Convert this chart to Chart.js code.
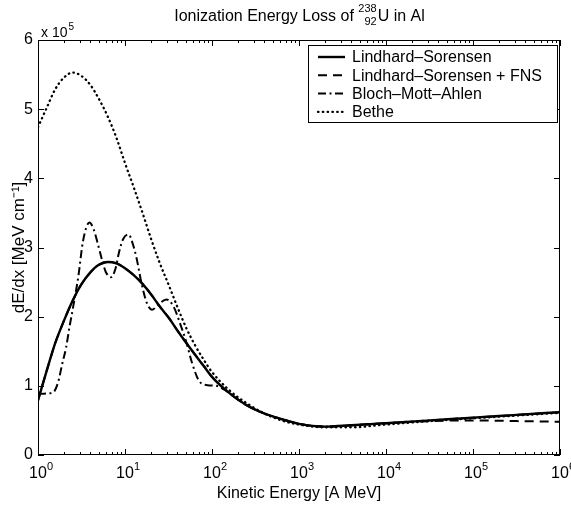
<!DOCTYPE html>
<html>
<head>
<meta charset="utf-8">
<script src="https://cdn.jsdelivr.net/npm/chart.js@4.4.0/dist/chart.umd.min.js"></script>
<style>
  html, body { margin: 0; padding: 0; background: #fff; }
</style>
</head>
<body>
<canvas id="myChart" width="571" height="506"></canvas>
<script>
// kinetic energy [A MeV] for the smooth curves
const energies = [1, 1.26, 1.58, 2, 2.5, 3.16, 4, 5, 6.3, 8, 10, 12.6, 16, 20, 25, 32, 40, 50, 63, 80,
    100, 160, 250, 400, 630, 1000, 2000, 4000, 10000, 32000, 100000, 320000, 1000000];

// dE/dx in units of 10^5 MeV/cm
const lindhardSorensen = [0.79, 1.22, 1.62, 1.95, 2.23, 2.47, 2.64, 2.75, 2.79, 2.77, 2.70, 2.60, 2.47, 2.32, 2.15, 1.98, 1.80, 1.63, 1.46, 1.29,
    1.13, 0.89, 0.72, 0.60, 0.52, 0.45, 0.41, 0.43, 0.46, 0.50, 0.54, 0.58, 0.62];
const lindhardSorensenFns = [0.79, 1.22, 1.62, 1.95, 2.23, 2.47, 2.64, 2.75, 2.79, 2.77, 2.70, 2.60, 2.47, 2.32, 2.15, 1.98, 1.80, 1.63, 1.46, 1.29,
    1.13, 0.89, 0.72, 0.60, 0.52, 0.45, 0.41, 0.43, 0.46, 0.49, 0.50, 0.49, 0.48];
const bethe = [4.74, 5.02, 5.29, 5.46, 5.53, 5.48, 5.35, 5.15, 4.9, 4.58, 4.22, 3.87, 3.49, 3.12, 2.78, 2.45, 2.14, 1.85, 1.60, 1.38,
    1.20, 0.93, 0.75, 0.60, 0.50, 0.44, 0.40, 0.40, 0.44, 0.49, 0.53, 0.57, 0.61];

// Bloch-Mott-Ahlen oscillates, so it is read on its own energy grid
const blochEnergies = [1, 1.26, 1.48, 1.7, 1.9, 2.1, 2.3, 2.5, 2.9, 3.3, 3.9, 4.4, 4.9, 5.5, 6, 6.9, 7.8, 8.5, 9.5, 11,
    12.3, 13.5, 15.5, 17.8, 20.4, 24, 30, 36, 43, 51, 59, 72, 89, 112, 141, 160,
    250, 400, 630, 1000, 2000, 4000, 10000, 32000, 100000, 320000, 1000000];
const blochMottAhlen = [0.88, 0.89, 0.90, 1.05, 1.32, 1.55, 1.85, 2.1, 2.57, 3.1, 3.36, 3.25, 3.04, 2.8, 2.65, 2.57, 2.7, 2.92, 3.12, 3.19,
    3.05, 2.86, 2.48, 2.2, 2.1, 2.17, 2.25, 2.15, 1.9, 1.62, 1.33, 1.06, 1.01, 1.0, 0.94, 0.89,
    0.72, 0.60, 0.52, 0.45, 0.41, 0.43, 0.46, 0.50, 0.54, 0.58, 0.62];

const seriesNames = ['Lindhard\u2013Sorensen', 'Lindhard\u2013Sorensen + FNS', 'Bloch\u2013Mott\u2013Ahlen', 'Bethe'];
const xTickExponents = [0, 1, 2, 3, 4, 5, 6];
const yTicks = [0, 1, 2, 3, 4, 5, 6];

const FONT = '"Liberation Sans", Arial, Helvetica, sans-serif';

const styles = [
    { borderWidth: 2.4, borderDash: [], cap: 'butt' },
    { borderWidth: 2, borderDash: [9, 6], cap: 'butt' },
    { borderWidth: 2, borderDash: [8, 3.5, 2, 3.5], cap: 'butt' },
    { borderWidth: 2.3, borderDash: [0.5, 4.3], cap: 'round' }
];

function pairs(xs, ys) {
    return xs.map((e, i) => ({ x: e, y: ys[i] }));
}

const matlabFrame = {
    id: 'matlabFrame',
    afterDatasetsDraw(chart) {
        const { ctx, chartArea: a, scales: { x, y } } = chart;
        ctx.save();
        ctx.strokeStyle = '#000';
        ctx.fillStyle = '#000';
        ctx.lineWidth = 1;
        ctx.setLineDash([]);

        // box
        ctx.strokeRect(Math.round(a.left) + 0.5, Math.round(a.top) + 0.5, Math.round(a.width) - 1, Math.round(a.height) - 1);

        // x ticks, inward on bottom and top
        ctx.beginPath();
        for (let n = 0; n <= 6; n++) {
            for (let m = 1; m <= 9; m++) {
                const v = m * Math.pow(10, n);
                if (v > 1e6) break;
                const px = Math.round(x.getPixelForValue(v)) + 0.5;
                const len = m === 1 ? 6 : 3;
                ctx.moveTo(px, a.bottom); ctx.lineTo(px, a.bottom - len);
                ctx.moveTo(px, a.top); ctx.lineTo(px, a.top + len);
            }
        }
        // y ticks, inward on left and right
        yTicks.forEach(v => {
            const py = Math.round(y.getPixelForValue(v)) + 0.5;
            ctx.moveTo(a.left, py); ctx.lineTo(a.left + 6, py);
            ctx.moveTo(a.right, py); ctx.lineTo(a.right - 6, py);
        });
        ctx.stroke();

        // x tick labels 10^n
        ctx.textBaseline = 'alphabetic';
        xTickExponents.forEach(n => {
            const px = x.getPixelForValue(Math.pow(10, n));
            ctx.font = '16px ' + FONT;
            ctx.textAlign = 'center';
            ctx.fillText('10', px, 478);
            const w = ctx.measureText('10').width;
            ctx.font = '11px ' + FONT;
            ctx.textAlign = 'left';
            ctx.fillText(String(n), px + w / 2, 470);
        });

        // exponent of the y axis
        ctx.font = '14px ' + FONT;
        ctx.textAlign = 'left';
        ctx.fillText('x 10', 41, 37);
        const wx = ctx.measureText('x 10').width;
        ctx.font = '10px ' + FONT;
        ctx.fillText('5', 41 + wx + 1, 30);

        // title with nuclide notation
        const main = 'Ionization Energy Loss of ';
        const tail = 'U in Al';
        ctx.font = '16px ' + FONT;
        const wMain = ctx.measureText(main).width;
        const wTail = ctx.measureText(tail).width;
        ctx.font = '11px ' + FONT;
        const wSup = ctx.measureText('238').width;
        const wSub = ctx.measureText('92').width;
        let tx = (a.left + a.right) / 2 - (wMain + wSup + wTail) / 2;
        ctx.font = '16px ' + FONT;
        ctx.fillText(main, tx, 21);
        tx += wMain;
        ctx.font = '11px ' + FONT;
        ctx.fillText('238', tx, 12);
        ctx.fillText('92', tx + wSup - wSub, 25);
        tx += wSup + 1;
        ctx.font = '16px ' + FONT;
        ctx.fillText(tail, tx, 21);

        // legend
        const lx = 308, ly = 45, lw = 249, lh = 77;
        ctx.fillStyle = '#fff';
        ctx.fillRect(lx, ly, lw, lh);
        ctx.strokeRect(lx + 0.5, ly + 0.5, lw, lh);
        ctx.fillStyle = '#000';
        ctx.font = '16px ' + FONT;
        ctx.textBaseline = 'middle';
        seriesNames.forEach((name, i) => {
            const rowY = 57 + i * 18.3;
            const st = styles[i];
            ctx.beginPath();
            ctx.lineWidth = st.borderWidth;
            ctx.lineCap = st.cap;
            ctx.setLineDash(st.borderDash);
            ctx.moveTo(318, rowY);
            ctx.lineTo(345, rowY);
            ctx.stroke();
            ctx.setLineDash([]);
            ctx.fillText(name, 352, rowY + 1);
        });
        ctx.restore();
    }
};

const ctx = document.getElementById('myChart').getContext('2d');
const seriesData = [
    pairs(energies, lindhardSorensen),
    pairs(energies, lindhardSorensenFns),
    pairs(blochEnergies, blochMottAhlen),
    pairs(energies, bethe)
];

new Chart(ctx, {
    type: 'line',
    data: {
        datasets: seriesData.map((d, i) => ({
            label: seriesNames[i],
            data: d,
            borderColor: '#000',
            backgroundColor: '#000',
            borderWidth: styles[i].borderWidth,
            borderDash: styles[i].borderDash,
            borderCapStyle: styles[i].cap,
            cubicInterpolationMode: 'monotone',
            pointRadius: 0,
            fill: false
        }))
    },
    options: {
        responsive: false,
        animation: false,
        layout: { padding: { top: 40, right: 11, left: 0, bottom: 0 } },
        plugins: {
            legend: { display: false },
            title: { display: false },
            tooltip: { enabled: false }
        },
        scales: {
            x: {
                type: 'logarithmic',
                min: 1,
                max: 1e6,
                grid: { display: false, drawTicks: false },
                border: { display: false },
                ticks: { display: false },
                title: {
                    display: true,
                    text: 'Kinetic Energy [A MeV]',
                    color: '#000',
                    font: { family: FONT, size: 16 },
                    padding: { top: 0, bottom: 3 }
                },
                afterFit: s => { s.height = 51; }
            },
            y: {
                type: 'linear',
                min: 0,
                max: 6,
                grid: { display: false, drawTicks: false },
                border: { display: false },
                afterBuildTicks: s => { s.ticks = yTicks.map(v => ({ value: v })); },
                ticks: {
                    color: '#000',
                    font: { family: FONT, size: 16 },
                    padding: 5,
                    callback: v => String(v)
                },
                title: {
                    display: true,
                    text: 'dE/dx [MeV cm\u207B\u00B9]',
                    color: '#000',
                    font: { family: FONT, size: 17 },
                    padding: { top: 9, bottom: 0 }
                },
                afterFit: s => { s.width = 38; }
            }
        }
    },
    plugins: [matlabFrame]
});
</script>
</body>
</html>
